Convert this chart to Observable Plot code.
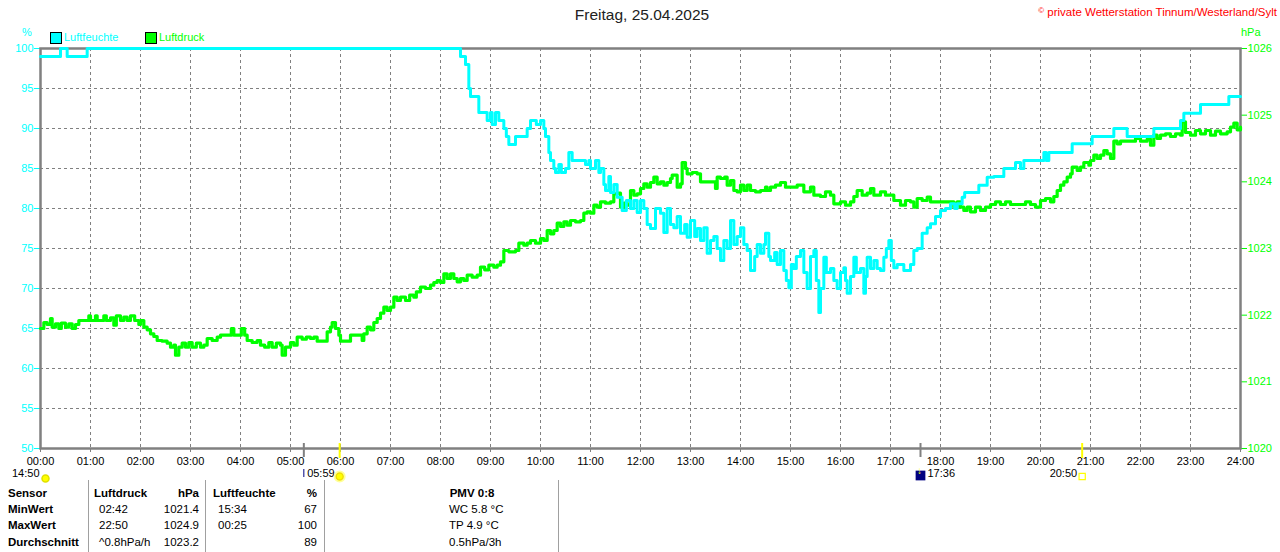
<!DOCTYPE html>
<html><head><meta charset="utf-8">
<script src="https://cdn.jsdelivr.net/npm/d3@7"></script>
<script src="https://cdn.jsdelivr.net/npm/@observablehq/plot@0.6"></script>
<style>
body{margin:0;background:#fff;width:1280px;height:552px;overflow:hidden;font-family:"Liberation Sans",Arial,sans-serif;}
#wrap{position:relative;width:1280px;height:552px;}
.t{position:absolute;font-size:11.5px;line-height:14px;white-space:nowrap;color:#000;}
.b{font-weight:bold;}
.r{text-align:right;}
.vl{position:absolute;top:480px;width:1px;height:72px;background:#a0a0a0;}
.sw{position:absolute;width:10px;height:10px;border:1px solid #000;}
</style></head>
<body><div id="wrap"></div>
<script>
// ---- data ----
const dayTitle = "Freitag, 25.04.2025";
const hourTicks = [0,60,120,180,240,300,360,420,480,540,600,660,720,780,840,900,960,1020,1080,1140,1200,1260,1320,1380,1440];
const humTicks = [50,55,60,65,70,75,80,85,90,95,100];
const pressTicks = [1020,1021,1022,1023,1024,1025,1026];

const humMin = [0,24,32,56,502,504,510,514,516,526,536,540,542,546,550,556,559,562,570,584,588,592,595,600,604,606,610,612,616,618,622,625,630,634,638,652,654,658,660,666,670,672,676,678,682,684,688,692,698,703,708,712,716,720,724,728,732,738,744,748,752,756,760,764,768,773,776,780,785,788,792,796,800,804,808,812,816,820,824,828,832,836,840,844,848,852,857,860,864,868,870,874,876,881,884,888,892,895,898,901,904,907,912,916,920,924,928,931,934,936,940,943,948,952,956,960,964,966,968,972,976,979,984,988,990,992,996,1000,1004,1008,1012,1015,1018,1021,1024,1028,1036,1044,1048,1052,1058,1064,1068,1074,1080,1086,1092,1097,1100,1106,1109,1126,1136,1144,1156,1170,1176,1180,1204,1207,1210,1238,1262,1288,1304,1336,1368,1372,1392,1426,1440];
const humVal = [99,100,99,100,100,99,98,95,94,92,91,92,90.5,92,91,90,89,88,89,90,91,91,90.5,91,90,89,87,86,85,84.5,85.5,84.5,85,87,86,86,85.5,86,85,86,84.5,85,83,82.25,84,82,83,81.4,79.75,81,80,81,79.5,81,80,78,77.5,80,79.4,77,80,78,77.6,79,76.9,78,76.4,78.5,76.5,77.5,76,77.6,74.4,76,76.5,75,73.5,76,75,78.5,75.5,76.5,77.6,75.5,74.75,72.25,74,75.5,74.4,75.5,76.9,74,73.5,74.5,73,74.75,72.25,71,70.1,73,72.5,74,74.75,72,70,74,74.75,71,67,70,73.9,72,72.5,71,70,72,72.6,71,69.4,71.5,73.9,72,72.5,69.4,71.5,73.9,72.5,73.5,72.5,72.25,73.9,75,76,73.5,72.6,73,72.25,73,74.75,75,76.9,77.6,78.1,79,79.75,80,80.6,80,80.6,81.4,82,82.9,83.9,84,85,85.75,85,86,87,86,87,88.1,89,90,89,90,91,91.9,93,94,94];

const pressMin = [0,4,8,12,14,18,22,25,30,34,38,42,46,54,58,60,66,68,76,79,84,88,91,96,100,104,108,113,118,120,124,128,132,136,140,146,152,156,160,162,166,170,174,178,182,187,192,196,200,206,212,216,228,229,232,240,241,245,248,254,260,264,269,274,278,283,288,290,294,300,304,308,314,319,324,328,332,340,344,348,350,354,358,360,368,372,384,386,388,392,396,400,404,408,412,416,420,424,428,432,438,443,448,451,456,462,468,472,476,480,484,488,492,496,500,504,508,512,518,524,528,533,538,544,548,552,556,562,570,574,580,584,588,594,600,604,608,612,616,620,624,628,632,636,642,648,652,656,660,664,668,672,678,684,688,692,696,700,704,708,712,716,720,724,728,732,736,740,744,748,752,756,758,764,768,770,774,776,782,788,792,808,810,812,816,821,824,828,832,836,840,844,848,852,858,864,870,872,876,882,888,894,900,908,916,924,928,936,942,948,952,960,966,972,976,980,986,992,996,1000,1004,1008,1014,1020,1024,1028,1032,1038,1044,1048,1052,1058,1064,1068,1092,1096,1100,1104,1108,1112,1116,1122,1128,1134,1140,1146,1152,1158,1164,1176,1182,1188,1194,1200,1206,1212,1216,1220,1224,1228,1232,1236,1238,1244,1248,1252,1258,1260,1264,1268,1272,1276,1280,1284,1288,1292,1296,1308,1314,1320,1328,1332,1336,1340,1344,1350,1356,1362,1368,1370,1374,1380,1386,1392,1398,1404,1410,1416,1424,1428,1432,1436,1440];
const pressVal = [1021.80,1021.89,1021.86,1021.95,1021.82,1021.87,1021.80,1021.88,1021.82,1021.87,1021.80,1021.86,1021.92,1021.92,1021.99,1021.92,1021.99,1021.92,1021.99,1021.92,1021.96,1021.85,1021.99,1021.92,1021.97,1021.92,1021.99,1021.92,1021.86,1021.92,1021.82,1021.78,1021.72,1021.68,1021.62,1021.61,1021.58,1021.52,1021.55,1021.40,1021.52,1021.58,1021.52,1021.59,1021.52,1021.58,1021.52,1021.55,1021.65,1021.62,1021.67,1021.70,1021.70,1021.80,1021.70,1021.70,1021.80,1021.70,1021.62,1021.59,1021.62,1021.55,1021.52,1021.59,1021.52,1021.58,1021.55,1021.40,1021.52,1021.59,1021.55,1021.67,1021.64,1021.67,1021.65,1021.67,1021.61,1021.61,1021.75,1021.82,1021.89,1021.80,1021.70,1021.61,1021.61,1021.70,1021.70,1021.62,1021.72,1021.82,1021.78,1021.89,1021.95,1022.03,1022.12,1022.07,1022.12,1022.27,1022.22,1022.27,1022.22,1022.30,1022.27,1022.35,1022.42,1022.40,1022.45,1022.49,1022.52,1022.49,1022.62,1022.55,1022.62,1022.55,1022.50,1022.55,1022.52,1022.60,1022.57,1022.60,1022.72,1022.68,1022.75,1022.72,1022.75,1022.80,1022.97,1022.95,1022.97,1023.08,1023.05,1023.08,1023.12,1023.08,1023.15,1023.12,1023.27,1023.22,1023.27,1023.38,1023.33,1023.40,1023.35,1023.42,1023.40,1023.42,1023.53,1023.55,1023.53,1023.65,1023.62,1023.70,1023.68,1023.70,1023.82,1023.83,1023.62,1023.68,1023.65,1023.87,1023.80,1023.82,1023.90,1023.97,1023.92,1023.99,1024.07,1023.97,1024.00,1023.95,1023.99,1024.05,1024.10,1023.92,1023.97,1024.29,1024.20,1024.12,1024.14,1024.12,1024.00,1024.00,1023.90,1024.07,1024.05,1024.07,1023.95,1024.02,1023.87,1023.85,1023.95,1023.87,1023.95,1023.87,1023.85,1023.87,1023.92,1023.87,1023.92,1023.95,1023.99,1023.92,1023.92,1023.95,1023.85,1023.92,1023.80,1023.78,1023.85,1023.80,1023.67,1023.70,1023.65,1023.70,1023.78,1023.87,1023.80,1023.83,1023.90,1023.80,1023.80,1023.85,1023.80,1023.80,1023.72,1023.72,1023.65,1023.72,1023.70,1023.62,1023.75,1023.72,1023.77,1023.70,1023.70,1023.62,1023.70,1023.62,1023.57,1023.62,1023.55,1023.62,1023.57,1023.62,1023.66,1023.70,1023.66,1023.70,1023.66,1023.66,1023.70,1023.66,1023.62,1023.72,1023.75,1023.70,1023.78,1023.87,1023.95,1024.00,1024.07,1024.12,1024.22,1024.17,1024.22,1024.29,1024.25,1024.32,1024.40,1024.35,1024.40,1024.47,1024.42,1024.35,1024.61,1024.57,1024.61,1024.61,1024.65,1024.61,1024.64,1024.55,1024.70,1024.65,1024.70,1024.72,1024.68,1024.72,1024.70,1024.90,1024.74,1024.70,1024.77,1024.72,1024.77,1024.70,1024.76,1024.72,1024.75,1024.82,1024.88,1024.78,1024.82];

// astronomical markers below the time axis
const sunEventMin = [359, 1250];          // 05:59, 20:50
const sunEventLabel = ["05:59", "20:50"];
const otherEventMin = [316, 1056];        // 05:16, 17:36
const moonLabel = "14:50";
const eventLabel1736 = "17:36";

// statistics table
const tableRows = [
  ["Sensor","Luftdruck","hPa","Luftfeuchte","%","PMV 0:8"],
  ["MinWert","02:42","1021.4","15:34","67","WC 5.8 °C"],
  ["MaxWert","22:50","1024.9","00:25","100","TP 4.9 °C"],
  ["Durchschnitt","^0.8hPa/h","1023.2","","89","0.5hPa/3h"]
];

// ---- helpers ----
const pLo = 1020, pHi = 1026, hLo = 50, hHi = 100;
const p2y = p => hLo + (p - pLo) * (hHi - hLo) / (pHi - pLo);
const y2p = y => pLo + (y - hLo) * (pHi - pLo) / (hHi - hLo);
const hum = humMin.map((t, i) => ({t, v: humVal[i]}));
const press = pressMin.map((t, i) => ({t, v: pressVal[i]}));
const fmtHour = m => String(Math.floor(m / 60)).padStart(2, "0") + ":00";
const gridH = hourTicks.slice(1, -1);
const gridV = humTicks.slice(1, -1);

const GRAY = "#808080", CYAN = "#00ffff", GREEN = "#00ff00";

const chart = Plot.plot({
  width: 1280, height: 480,
  marginLeft: 40, marginRight: 40, marginTop: 48, marginBottom: 32,
  style: {fontFamily: "'Liberation Sans', Arial, sans-serif", fontSize: "11px", background: "transparent", overflow: "visible"},
  x: {domain: [0, 1440]},
  y: {domain: [hLo, hHi]},
  marks: [
    Plot.ruleX(gridH, {x: d => d, stroke: GRAY, strokeWidth: 1, strokeDasharray: "3,3"}),
    Plot.ruleY(gridV, {y: d => d, stroke: GRAY, strokeWidth: 1, strokeDasharray: "3,3"}),
    Plot.axisX(hourTicks, {anchor: "bottom", tickFormat: fmtHour, tickSize: 4, tickPadding: 5, stroke: GRAY, fill: "#000", fontSize: 11, label: null}),
    Plot.axisY(humTicks, {anchor: "left", tickSize: 6, tickPadding: 1, color: CYAN, fontSize: 11, label: null}),
    Plot.axisY(pressTicks.map(p2y), {anchor: "right", tickSize: 6, tickPadding: 1, tickFormat: d => String(Math.round(y2p(d))), color: GREEN, fontSize: 11, label: null}),
    Plot.frame({stroke: GRAY, strokeWidth: 2.5}),
    // event ticks on axis
    Plot.ruleX(otherEventMin, {x: d => d, stroke: GRAY, strokeWidth: 2, insetTop: 395, insetBottom: -9}),
    Plot.ruleX(sunEventMin, {x: d => d, stroke: "#ffff00", strokeWidth: 2, insetTop: 395, insetBottom: -10}),
    // data lines
    Plot.line(press, {x: "t", y: d => p2y(d.v), stroke: GREEN, strokeWidth: 3.2, curve: "step-after"}),
    Plot.line(hum, {x: "t", y: "v", stroke: CYAN, strokeWidth: 3, curve: "step-after"}),
    // marker row
    Plot.text([moonLabel], {x: () => 0, text: d => d, frameAnchor: "bottom", dy: 28, textAnchor: "end", dx: -1, fill: "#000", fontSize: 11}),
    Plot.dot([0], {x: d => d, frameAnchor: "bottom", dy: 30, dx: 5, r: 3.5, fill: "#ffff00", stroke: "#e0e000"}),
    Plot.ruleX([otherEventMin[0]], {x: d => d, stroke: "#000080", strokeWidth: 1, insetTop: 421, insetBottom: -29}),
    Plot.text([0], {x: () => sunEventMin[0], text: () => sunEventLabel[0], frameAnchor: "bottom", dy: 28, textAnchor: "end", dx: -5, fill: "#000", fontSize: 11}),
    Plot.dot([0], {x: () => sunEventMin[0], frameAnchor: "bottom", dy: 28, r: 5, fill: "none", stroke: "#ffff99", strokeWidth: 2}),
    Plot.dot([0], {x: () => sunEventMin[0], frameAnchor: "bottom", dy: 28, r: 3.5, fill: "#ffff00", stroke: "#f0e000"}),
    Plot.dot([0], {x: () => otherEventMin[1], frameAnchor: "bottom", dy: 27, symbol: "square", r: 5.5, fill: "#000080"}),
    Plot.text([0], {x: () => otherEventMin[1], text: () => "↓", frameAnchor: "bottom", dy: 25, dx: -1, fill: "#ffff00", fontSize: 10, fontWeight: "bold"}),
    Plot.text([0], {x: () => otherEventMin[1], text: () => eventLabel1736, frameAnchor: "bottom", dy: 28, textAnchor: "start", dx: 7, fill: "#000", fontSize: 11}),
    Plot.text([0], {x: () => sunEventMin[1], text: () => sunEventLabel[1], frameAnchor: "bottom", dy: 28, textAnchor: "end", dx: -5, fill: "#000", fontSize: 11}),
    Plot.dot([0], {x: () => sunEventMin[1], frameAnchor: "bottom", dy: 28, symbol: "square", r: 3.5, fill: "none", stroke: "#ffff00", strokeWidth: 1.2})
  ]
});
chart.style.position = "absolute";
chart.style.left = "0px";
chart.style.top = "0px";
const wrap = document.getElementById("wrap");
wrap.appendChild(chart);

function addText(txt, css, cls) {
  const d = document.createElement("div");
  d.className = "t " + (cls || "");
  d.textContent = txt;
  Object.assign(d.style, css);
  wrap.appendChild(d);
  return d;
}
// title, copyright, units, legend
addText(dayTitle, {left: "0px", width: "1284px", textAlign: "center", top: "6px", fontSize: "15.5px", lineHeight: "18px", color: "#222"});
const cp = addText("", {right: "3px", top: "4px", color: "#ff0000", fontSize: "11.5px"});
cp.innerHTML = '<span style="font-size:8px;vertical-align:3px">©</span> private Wetterstation Tinnum/Westerland/Sylt';
addText("%", {left: "22px", top: "25px", color: CYAN, fontSize: "11px"});
addText("hPa", {left: "1241px", top: "25px", color: GREEN, fontSize: "11px"});
const s1 = document.createElement("div"); s1.className = "sw"; Object.assign(s1.style, {left: "50px", top: "32px", background: CYAN}); wrap.appendChild(s1);
addText("Luftfeuchte", {left: "64px", top: "30px", color: CYAN, fontSize: "11px"});
const s2 = document.createElement("div"); s2.className = "sw"; Object.assign(s2.style, {left: "145px", top: "32px", background: GREEN}); wrap.appendChild(s2);
addText("Luftdruck", {left: "159px", top: "30px", color: GREEN, fontSize: "11px"});

// table
[88, 205, 324, 558].forEach(x => { const v = document.createElement("div"); v.className = "vl"; v.style.left = x + "px"; wrap.appendChild(v); });
const rowY = [486, 502, 518, 535];
tableRows.forEach((row, i) => {
  const hdr = i === 0;
  const top = rowY[i] + "px";
  addText(row[0], {left: "8px", top}, "b");
  addText(row[1], {left: hdr ? "94px" : "99px", top}, hdr ? "b" : "");
  addText(row[2], {left: "150px", width: "49px", top}, "r " + (hdr ? "b" : ""));
  addText(row[3], {left: hdr ? "213px" : "218px", top}, hdr ? "b" : "");
  addText(row[4], {left: "270px", width: "47px", top}, "r " + (hdr ? "b" : ""));
  if (hdr) addText(row[5], {left: "420px", width: "104px", textAlign: "center", top}, "b");
  else addText(row[5], {left: "449px", top});
});
</script></body></html>
